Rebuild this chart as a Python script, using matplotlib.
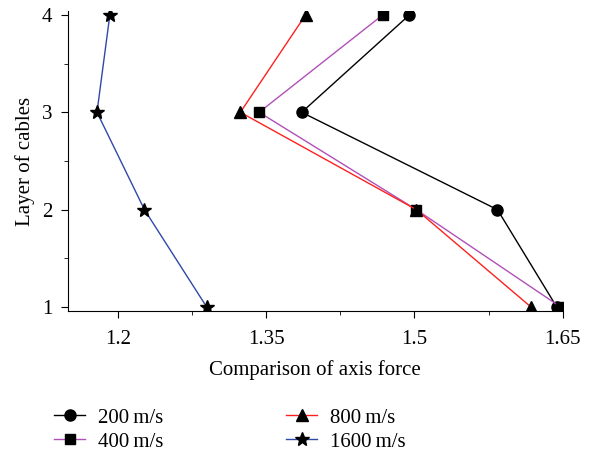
import matplotlib
matplotlib.use("Agg")
import matplotlib.pyplot as plt
from matplotlib.ticker import MultipleLocator

plt.rcParams['font.family'] = ['Liberation Serif', 'DejaVu Serif']

# layers of cables
layers = [1, 2, 3, 4]

# comparison of axis force
force_200 = [1.644, 1.584, 1.386, 1.495]
force_400 = [1.648, 1.502, 1.343, 1.468]
force_800 = [1.618, 1.502, 1.324, 1.390]
force_1600 = [1.290, 1.227, 1.179, 1.192]

labels = ['200\u2009m/s', '400\u2009m/s', '800\u2009m/s', '1600\u2009m/s']

fig = plt.figure(figsize=(6.11, 4.58), dpi=100)
ax = fig.add_axes([0.111, 0.321, 0.81, 0.655])

l1, = ax.plot(force_200, layers, color='black', lw=1, marker='o', ms=8, mfc='black', mec='black')
l2, = ax.plot(force_400, layers, color='#b050b8', lw=1, marker='s', ms=7, mfc='black', mec='black')
l3, = ax.plot(force_800, layers, color='#ff2020', lw=1, marker='^', ms=8.5, mfc='black', mec='black')
l4, = ax.plot(force_1600, layers, color='#3048a8', lw=1, marker='*', ms=10.5, mfc='black', mec='black')

ax.set_xlim(1.1495, 1.65)
ax.set_ylim(0.96, 4.04)
ax.set_xticks([1.2, 1.35, 1.5, 1.65])
ax.set_xticklabels(['1.2', '1.35', '1.5', '1.65'])
ax.set_yticks([1, 2, 3, 4])
ax.xaxis.set_minor_locator(MultipleLocator(0.075))
ax.yaxis.set_minor_locator(MultipleLocator(0.5))
ax.tick_params(which='both', direction='out', labelsize=15)
ax.tick_params(which='major', length=5)
ax.tick_params(which='minor', length=3)
ax.tick_params(axis='x', pad=9)
ax.tick_params(axis='y', pad=6)
ax.spines['top'].set_visible(False)
ax.spines['right'].set_visible(False)

ax.set_xlabel('Comparison of axis force', fontsize=15, labelpad=8)
ax.set_ylabel('Layer of cables', fontsize=15, labelpad=5)

fig.legend([l1, l2, l3, l4], labels, ncol=2, loc='upper left',
           bbox_to_anchor=(0.075, 0.127), frameon=False, fontsize=15,
           handlelength=1.5, handletextpad=0.6, columnspacing=5.9,
           labelspacing=0.2, borderaxespad=0)

fig.savefig('out.png', dpi=100)
